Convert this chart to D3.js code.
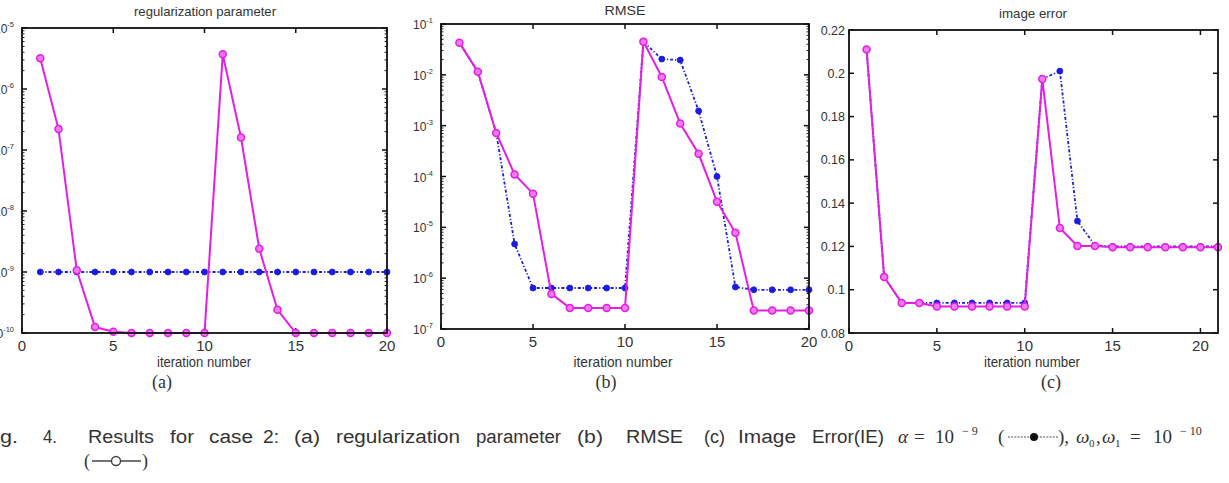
<!DOCTYPE html>
<html><head><meta charset="utf-8">
<script src="https://cdn.jsdelivr.net/npm/d3@7/dist/d3.min.js"></script>
<style>
html,body{margin:0;padding:0;background:#fff;}
svg{display:block;}
</style></head>
<body>
<svg id="chart" width="1229" height="483"></svg>
<script>
// ---------- data ----------
const iterAB = [1,2,3,4,5,6,7,8,9,10,11,12,13,14,15,16,17,18,19,20];
const iterC  = [1,2,3,4,5,6,7,8,9,10,11,12,13,14,15,16,17,18,19,20,21];

const regAlpha = [1e-9,1e-9,1e-9,1e-9,1e-9,1e-9,1e-9,1e-9,1e-9,1e-9,1e-9,1e-9,1e-9,1e-9,1e-9,1e-9,1e-9,1e-9,1e-9,1e-9];
const regOmega = [3.2e-6,2.2e-7,1.07e-9,1.25e-10,1.05e-10,1.0e-10,1.0e-10,1.0e-10,1.0e-10,1.0e-10,3.7e-6,1.6e-7,2.4e-9,2.4e-10,1.0e-10,1.0e-10,1.0e-10,1.0e-10,1.0e-10,1.0e-10];

const rmseAlpha = [0.043,0.0115,7.2e-4,4.7e-6,6.4e-7,6.4e-7,6.4e-7,6.4e-7,6.4e-7,6.4e-7,0.045,0.0204,0.0195,1.95e-3,1.0e-4,6.7e-7,5.9e-7,5.9e-7,5.9e-7,5.9e-7];
const rmseOmega = [0.043,0.0115,7.2e-4,1.1e-4,4.6e-5,4.9e-7,2.6e-7,2.6e-7,2.6e-7,2.6e-7,0.045,9.1e-3,1.1e-3,2.8e-4,3.2e-5,7.8e-6,2.3e-7,2.3e-7,2.3e-7,2.3e-7];

const ieAlpha = [0.211,0.1059,0.0939,0.0939,0.0939,0.0939,0.0939,0.0939,0.0939,0.0939,0.1974,0.201,0.1317,0.1205,0.1200,0.1200,0.1200,0.1200,0.1200,0.1200,0.1200];
const ieOmega = [0.211,0.1059,0.0939,0.0939,0.0922,0.0922,0.0922,0.0922,0.0922,0.0922,0.1974,0.1285,0.1202,0.1202,0.1196,0.1196,0.1196,0.1196,0.1196,0.1196,0.1196];

const xTicks = [0,5,10,15,20];
const regExps = [-10,-9,-8,-7,-6,-5];
const rmseExps = [-7,-6,-5,-4,-3,-2,-1];
const ieTicks = [0.08,0.1,0.12,0.14,0.16,0.18,0.2,0.22];
const ieTickLabels = ["0.08","0.1","0.12","0.14","0.16","0.18","0.2","0.22"];

const titles = ["regularization parameter","RMSE","image error"];
const xLabel = "iteration number";
const subLabels = ["(a)","(b)","(c)"];

// ---------- style ----------
const MAG = "#e41ee4", BLUE = "#1c1ce0";
const SANS = "'Liberation Sans', Arial, sans-serif";
const SERIF = "'Liberation Serif', 'Times New Roman', serif";

const svg = d3.select("#chart");

function panel(cfg){
  const {x0,x1,y0,y1} = cfg;
  const g = svg.append("g");
  const x = d3.scaleLinear().domain(cfg.xDomain).range([x0,x1]);
  const y = cfg.log ? d3.scaleLog().domain(cfg.yDomain).range([y1,y0])
                    : d3.scaleLinear().domain(cfg.yDomain).range([y1,y0]);
  const T = 5;
  if (cfg.log){
    const minors=[];
    for (let k=cfg.yDomain[0]; k<cfg.yDomain[1]*0.99; k*=10){
      for (let m=2;m<=9;m++) minors.push(m*k);
    }
    g.selectAll(null).data(minors).join("line")
      .attr("x1",x0).attr("x2",x0+2.5).attr("y1",d=>y(d)).attr("y2",d=>y(d))
      .attr("stroke","#222").attr("stroke-width",1);
    g.selectAll(null).data(minors).join("line")
      .attr("x1",x1).attr("x2",x1-2.5).attr("y1",d=>y(d)).attr("y2",d=>y(d))
      .attr("stroke","#222").attr("stroke-width",1);
  }
  g.selectAll(null).data(cfg.yTicks).join("line")
    .attr("x1",x0).attr("x2",x0+T).attr("y1",d=>y(d)).attr("y2",d=>y(d))
    .attr("stroke","#111").attr("stroke-width",1.5);
  g.selectAll(null).data(cfg.yTicks).join("line")
    .attr("x1",x1).attr("x2",x1-T).attr("y1",d=>y(d)).attr("y2",d=>y(d))
    .attr("stroke","#111").attr("stroke-width",1.5);
  const xt = xTicks.filter(d=>d>=cfg.xDomain[0]&&d<=cfg.xDomain[1]);
  g.selectAll(null).data(xt).join("line")
    .attr("x1",d=>x(d)).attr("x2",d=>x(d)).attr("y1",y1).attr("y2",y1-T)
    .attr("stroke","#111").attr("stroke-width",1.5);
  g.selectAll(null).data(xt).join("line")
    .attr("x1",d=>x(d)).attr("x2",d=>x(d)).attr("y1",y0).attr("y2",y0+T)
    .attr("stroke","#111").attr("stroke-width",1.5);
  g.selectAll(null).data(xt).join("text")
    .attr("x",d=>x(d)).attr("y",y1+18).attr("text-anchor","middle")
    .attr("font-family",SANS).attr("font-size",15).attr("fill","#333")
    .text(d=>d);
  if (cfg.log){
    cfg.yTicks.forEach((v,i)=>{
      const t = g.append("text").attr("x",x0-8).attr("y",y(v)+5)
        .attr("text-anchor","end").attr("font-family",SANS).attr("fill","#333");
      t.append("tspan").attr("font-size",12).text("10");
      t.append("tspan").attr("font-size",7.5).attr("dy",-6).text("-"+Math.abs(cfg.exps[i]));
    });
  } else {
    g.selectAll(null).data(cfg.yTicks).join("text")
      .attr("x",x0-4).attr("y",d=>y(d)+4.5).attr("text-anchor","end")
      .attr("font-family",SANS).attr("font-size",12.5).attr("fill","#333")
      .text((d,i)=>cfg.yTickLabels[i]);
  }
  g.append("text").attr("x",cfg.titleX).attr("y",cfg.titleY).attr("text-anchor","middle")
    .attr("font-family",SANS).attr("font-size",13.5).attr("fill","#333")
    .attr("textLength",cfg.titleW).attr("lengthAdjust","spacingAndGlyphs")
    .text(cfg.title);
  g.append("text").attr("x",cfg.xlabX).attr("y",367).attr("text-anchor","middle")
    .attr("font-family",SANS).attr("font-size",14.5).attr("fill","#333")
    .attr("textLength",cfg.xlabW).attr("lengthAdjust","spacingAndGlyphs")
    .text(xLabel);

  const line = d3.line().x(d=>x(d[0])).y(d=>y(d[1]));
  const aPts = cfg.iters.map((d,i)=>[d,cfg.alpha[i]]);
  const oPts = cfg.iters.map((d,i)=>[d,cfg.omega[i]]);
  g.append("path").attr("d",line(aPts)).attr("fill","none")
    .attr("stroke",BLUE).attr("stroke-width",1.8).attr("stroke-dasharray","3,2,1.2,2");
  g.selectAll(null).data(aPts).join("circle")
    .attr("cx",d=>x(d[0])).attr("cy",d=>y(d[1])).attr("r",3)
    .attr("fill",BLUE).attr("stroke",BLUE).attr("stroke-width",0.8);
  g.append("path").attr("d",line(oPts)).attr("fill","none")
    .attr("stroke",MAG).attr("stroke-width",2);
  g.selectAll(null).data(oPts).join("circle")
    .attr("cx",d=>x(d[0])).attr("cy",d=>y(d[1])).attr("r",3.5)
    .attr("fill","#f07af0").attr("stroke",MAG).attr("stroke-width",1.5);

  g.append("rect").attr("x",x0).attr("y",y0).attr("width",x1-x0).attr("height",y1-y0)
    .attr("fill","none").attr("stroke","#111").attr("stroke-width",1.8);
}

panel({x0:22,x1:387,y0:28,y1:333,xDomain:[0,20],log:true,yDomain:[1e-10,1e-5],
  yTicks:regExps.map(e=>Math.pow(10,e)),exps:regExps,
  iters:iterAB,alpha:regAlpha,omega:regOmega,
  title:titles[0],titleX:205,titleY:16,titleW:142,xlabX:204,xlabW:94});
panel({x0:441,x1:809,y0:24,y1:329,xDomain:[0,20],log:true,yDomain:[1e-7,1e-1],
  yTicks:rmseExps.map(e=>Math.pow(10,e)),exps:rmseExps,
  iters:iterAB,alpha:rmseAlpha,omega:rmseOmega,
  title:titles[1],titleX:625,titleY:15,titleW:41,xlabX:623,xlabW:99});
panel({x0:849,x1:1218,y0:30,y1:333,xDomain:[0,21],log:false,yDomain:[0.08,0.22],
  yTicks:ieTicks,yTickLabels:ieTickLabels,
  iters:iterC,alpha:ieAlpha,omega:ieOmega,
  title:titles[2],titleX:1033,titleY:18,titleW:68,xlabX:1032,xlabW:96});

// ---------- sub labels ----------
const subX = [162,606,1051];
subLabels.forEach((s,i)=>{
  svg.append("text").attr("x",subX[i]).attr("y",388).attr("text-anchor","middle")
    .attr("font-family",SERIF).attr("font-size",18).attr("fill","#333").text(s);
});

// ---------- caption ----------
const capWords = [
  ["g.",0,18],["4.",43,14],["Results",88,66],["for",170,24],["case",209,44],["2:",263,16],
  ["(a)",294,26],["regularization",336,124],["parameter",476,85],["(b)",577,26],
  ["RMSE",626,57],["(c)",704,21],["Image",738,58],["Error(IE)",812,72]
];
const capY = 443;
capWords.forEach(w=>{
  svg.append("text").attr("x",w[1]).attr("y",capY).attr("font-family",SANS)
    .attr("font-size",18).attr("fill","#333")
    .attr("textLength",w[2]).attr("lengthAdjust","spacingAndGlyphs").text(w[0]);
});
function mtext(x,y,str,opts){
  return svg.append("text").attr("x",x).attr("y",y).attr("font-family",SERIF)
    .attr("font-size",opts&&opts.size||19).attr("font-style",opts&&opts.italic?"italic":"normal")
    .attr("fill","#333").text(str);
}
mtext(898,capY,"\u03b1",{italic:true});
mtext(914,capY,"=");
mtext(935,capY,"10");
mtext(962,capY-8,"\u2212 9",{size:12});
mtext(998,capY,"(");
svg.append("line").attr("x1",1008).attr("x2",1058).attr("y1",capY-6).attr("y2",capY-6)
  .attr("stroke","#555").attr("stroke-width",1.2).attr("stroke-dasharray","2,1.2");
svg.append("circle").attr("cx",1034).attr("cy",capY-6).attr("r",4).attr("fill","#111");
mtext(1058,capY,"),");
mtext(1076,capY,"\u03c9",{italic:true});
mtext(1089,capY+4,"0",{size:11});
mtext(1096,capY,",");
mtext(1102,capY,"\u03c9",{italic:true});
mtext(1115,capY+4,"1",{size:11});
mtext(1130,capY,"=");
mtext(1153,capY,"10");
mtext(1180,capY-8,"\u2212 10",{size:12});

const l2 = 467;
mtext(84,l2,"(",{size:18});
svg.append("line").attr("x1",92).attr("x2",141).attr("y1",l2-6).attr("y2",l2-6)
  .attr("stroke","#444").attr("stroke-width",1.4);
svg.append("circle").attr("cx",116).attr("cy",l2-6).attr("r",4.5).attr("fill","#fff")
  .attr("stroke","#444").attr("stroke-width",1.4);
mtext(142,l2,")",{size:18});
</script>
</body></html>
